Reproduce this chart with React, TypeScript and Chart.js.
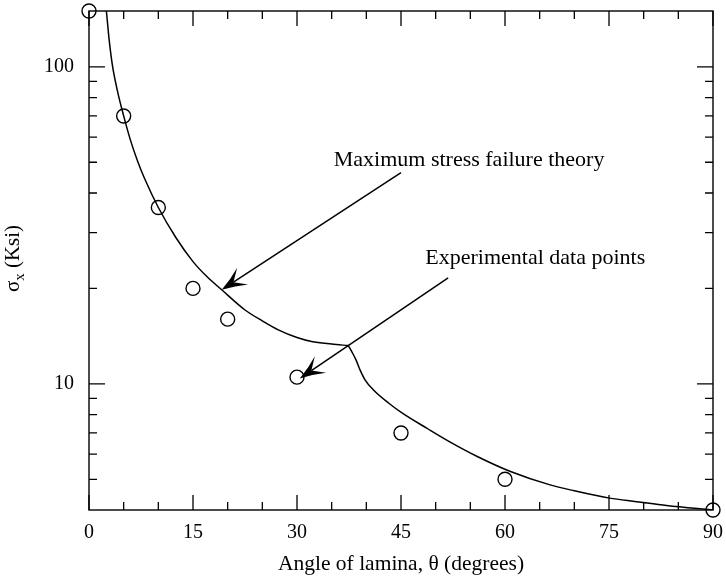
import React, { useEffect, useRef } from "react";
import { Chart, registerables } from "chart.js";

Chart.register(...registerables);

// ---- Data ----
// Maximum stress failure theory curve, split at the cusp
const theoryAngleA = [2.2, 2.5, 2.9, 3.35, 4.1, 5, 6, 7, 8, 10, 12.5, 15, 17, 19.14, 22.5, 25, 27.3, 30, 32.1, 35, 37.4];
const theorySigmaA = [168, 150, 122, 102, 84, 70, 58.5, 50.5, 44.5, 36, 29, 24.3, 21.8, 19.8, 17.1, 15.8, 14.8, 14.0, 13.6, 13.35, 13.2];
const theoryAngleB = [37.4, 37.93, 38.51, 39.09, 39.81, 41.0, 43.2, 45.3, 48.7, 52.1, 56, 60.7, 66.5, 70, 75.1, 79, 83.3, 90];
const theorySigmaB = [13.2, 12.6, 11.9, 11.07, 10.3, 9.58, 8.7, 8.05, 7.25, 6.55, 5.9, 5.3, 4.8, 4.6, 4.36, 4.25, 4.13, 4.0];

// Experimental data points
const expAngle = [0, 5, 10, 15, 20, 30, 45, 60, 90];
const expSigma = [150, 70, 36, 20, 16, 10.5, 7, 5, 4];

// Axes
const xMin = 0;
const xMax = 90;
const xLabelStep = 15;
const xTickValues = [0, 5, 10, 15, 20, 25, 30, 35, 40, 45, 50, 55, 60, 65, 70, 75, 80, 85, 90];
const yMin = 4;
const yMax = 150;
const yMajorTicks = [10, 100];
const yMinorTicks = [5, 6, 7, 8, 9, 20, 30, 40, 50, 60, 70, 80, 90];

// Annotations
const annText = ["Maximum stress failure theory", "Experimental data points"];
const annTextAngle = [35.3, 48.5];
const annTextSigma = [48.7, 23.8];
const arrowFromAngle = [45.0, 51.8];
const arrowFromSigma = [46.4, 21.6];
const arrowToAngle = [19.14, 30.4];
const arrowToSigma = [19.8, 10.4];

const xTitle = "Angle of lamina, \u03b8 (degrees)";
const yTitleMain = "\u03c3";
const yTitleSub = "x";
const yTitleRest = " (Ksi)";

const FONT = "'Liberation Serif', 'Times New Roman', serif";

function drawArrow(ctx: CanvasRenderingContext2D, x0: number, y0: number, x1: number, y1: number) {
  const dx = x1 - x0;
  const dy = y1 - y0;
  const len = Math.hypot(dx, dy);
  const ux = dx / len;
  const uy = dy / len;
  const nx = -uy;
  const ny = ux;
  const L = 25;
  const W = 10;
  const N = 14;
  ctx.beginPath();
  ctx.moveTo(x0, y0);
  ctx.lineTo(x1 - ux * N, y1 - uy * N);
  ctx.stroke();
  ctx.beginPath();
  ctx.moveTo(x1, y1);
  ctx.quadraticCurveTo(x1 - ux * L * 0.55 + nx * W * 0.4, y1 - uy * L * 0.55 + ny * W * 0.4, x1 - ux * L + nx * W, y1 - uy * L + ny * W);
  ctx.lineTo(x1 - ux * N, y1 - uy * N);
  ctx.lineTo(x1 - ux * L - nx * W, y1 - uy * L - ny * W);
  ctx.quadraticCurveTo(x1 - ux * L * 0.55 - nx * W * 0.4, y1 - uy * L * 0.55 - ny * W * 0.4, x1, y1);
  ctx.closePath();
  ctx.fill();
}

const decorPlugin = {
  id: "decor",
  afterDatasetsDraw(chart: any) {
    const ctx: CanvasRenderingContext2D = chart.ctx;
    const xs = chart.scales.x;
    const ys = chart.scales.y;
    const { left, right, top, bottom } = chart.chartArea;
    ctx.save();
    ctx.strokeStyle = "#000";
    ctx.fillStyle = "#000";
    // frame
    ctx.lineWidth = 1.4;
    ctx.strokeRect(left, top, right - left, bottom - top);
    // x ticks (bottom and top, inward)
    ctx.lineWidth = 1.3;
    ctx.beginPath();
    xTickValues.forEach((v) => {
      const px = xs.getPixelForValue(v);
      const len = v % xLabelStep === 0 ? 15 : 8;
      ctx.moveTo(px, bottom);
      ctx.lineTo(px, bottom - len);
      ctx.moveTo(px, top);
      ctx.lineTo(px, top + len);
    });
    // y ticks (left and right, inward)
    const yTicks = [...yMajorTicks.map((v) => [v, 16]), ...yMinorTicks.map((v) => [v, 8])];
    yTicks.forEach(([v, len]) => {
      const py = ys.getPixelForValue(v);
      ctx.moveTo(left, py);
      ctx.lineTo(left + len, py);
      ctx.moveTo(right, py);
      ctx.lineTo(right - len, py);
    });
    ctx.stroke();

    // annotations
    ctx.font = `22px ${FONT}`;
    ctx.textBaseline = "alphabetic";
    ctx.textAlign = "left";
    annText.forEach((t, i) => {
      ctx.fillText(t, xs.getPixelForValue(annTextAngle[i]), ys.getPixelForValue(annTextSigma[i]));
    });
    ctx.lineWidth = 1.5;
    annText.forEach((_, i) => {
      drawArrow(
        ctx,
        xs.getPixelForValue(arrowFromAngle[i]),
        ys.getPixelForValue(arrowFromSigma[i]),
        xs.getPixelForValue(arrowToAngle[i]),
        ys.getPixelForValue(arrowToSigma[i])
      );
    });

    // y axis title with subscript, rotated
    const cy = (top + bottom) / 2 - 2;
    const bx = 19;
    ctx.translate(bx, cy);
    ctx.rotate(-Math.PI / 2);
    const mainFont = `21px ${FONT}`;
    const subFont = `15px ${FONT}`;
    ctx.font = mainFont;
    const w1 = ctx.measureText(yTitleMain).width;
    const w3 = ctx.measureText(yTitleRest).width;
    ctx.font = subFont;
    const w2 = ctx.measureText(yTitleSub).width;
    const total = w1 + w2 + w3;
    let x = -total / 2;
    ctx.font = mainFont;
    ctx.fillText(yTitleMain, x, 0);
    x += w1;
    ctx.font = subFont;
    ctx.fillText(yTitleSub, x, 5);
    x += w2;
    ctx.font = mainFont;
    ctx.fillText(yTitleRest, x, 0);
    ctx.restore();
  },
};

export default function App() {
  const ref = useRef<HTMLCanvasElement>(null);
  useEffect(() => {
    const lineA = theoryAngleA.map((a, i) => ({ x: a, y: theorySigmaA[i] }));
    const lineB = theoryAngleB.map((a, i) => ({ x: a, y: theorySigmaB[i] }));
    const pts = expAngle.map((a, i) => ({ x: a, y: expSigma[i] }));
    const lineStyle = {
      showLine: true,
      borderColor: "#000",
      borderWidth: 1.5,
      pointRadius: 0,
      cubicInterpolationMode: "monotone" as const,
      fill: false,
    };
    const chart = new Chart(ref.current!, {
      type: "scatter",
      data: {
        datasets: [
          { label: "Maximum stress failure theory A", data: lineA, ...lineStyle },
          { label: "Maximum stress failure theory B", data: lineB, ...lineStyle },
          {
            label: "Experimental data points",
            data: pts,
            pointStyle: "circle",
            pointRadius: 7,
            borderColor: "#000",
            backgroundColor: "rgba(0,0,0,0)",
            borderWidth: 1.4,
            clip: false as any,
          },
        ],
      },
      options: {
        responsive: false,
        animation: false,
        layout: { padding: { left: 0, top: 11, right: 13, bottom: 0 } },
        plugins: { legend: { display: false }, tooltip: { enabled: false } },
        scales: {
          x: {
            type: "linear",
            min: xMin,
            max: xMax,
            ticks: {
              stepSize: xLabelStep,
              color: "#000",
              font: { family: FONT, size: 20 },
              padding: 11,
              maxRotation: 0,
            },
            grid: { display: false, drawTicks: false },
            border: { display: false },
            title: {
              display: true,
              text: xTitle,
              color: "#000",
              font: { family: FONT, size: 21.5 },
              padding: { top: 0, bottom: 2 },
            },
            afterFit: (s: any) => {
              s.height = 69;
              s.paddingLeft = 0;
              s.paddingRight = 0;
            },
          },
          y: {
            type: "logarithmic",
            min: yMin,
            max: yMax,
            afterBuildTicks: (s: any) => {
              s.ticks = yMajorTicks.map((v) => ({ value: v }));
            },
            ticks: {
              color: "#000",
              font: { family: FONT, size: 20 },
              padding: 15,
              callback: (v: any) => String(v),
            },
            grid: { display: false, drawTicks: false },
            border: { display: false },
            afterFit: (s: any) => {
              s.width = 89;
              s.paddingTop = 0;
              s.paddingBottom = 0;
            },
          },
        },
      },
      plugins: [decorPlugin],
    });
    return () => chart.destroy();
  }, []);
  return (
    <div style={{ position: "fixed", left: 0, top: 0, width: 726, height: 579, background: "#fff" }}>
      <canvas ref={ref} width={726} height={579} style={{ display: "block" }} />
    </div>
  );
}
